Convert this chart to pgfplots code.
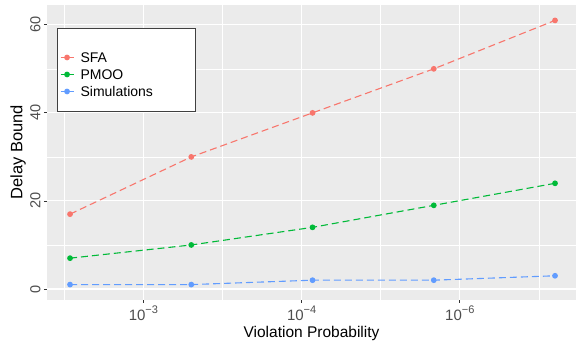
\documentclass[border=0pt]{standalone}
\usepackage{fontspec}
\setmainfont{Liberation Sans}
\usepackage{pgfplots}
\pgfplotsset{compat=1.18}
\definecolor{panel}{HTML}{EBEBEB}
\definecolor{sfa}{HTML}{F8766D}
\definecolor{pmoo}{HTML}{00BA38}
\definecolor{sim}{HTML}{619CFF}
\definecolor{ticklab}{HTML}{4D4D4D}
\definecolor{tickcol}{HTML}{333333}
\definecolor{legbox}{HTML}{404040}
\newcommand{\pw}[1]{10\raisebox{7.5pt}{\fontsize{11}{12}\selectfont −#1}}
\begin{document}
\begin{tikzpicture}
\begin{axis}[
  name=ax,
  scale only axis, width=529pt, height=295pt,
  xmin=0.81, xmax=5.173, ymin=-2.5, ymax=64.5,
  /pgf/number format/assume math mode=true,
  axis background/.style={fill=panel},
  axis line style={draw=none},
  xtick={1.605,2.91,4.215},
  xticklabels={\pw{3},\pw{4},\pw{6}},
  minor xtick={0.9525,2.2575,3.5625,4.8675},
  ytick={0,20,40,60},
  minor ytick={10,30,50},
  grid=both,
  major grid style={white, line width=1.1pt},
  minor grid style={white, line width=0.55pt},
  tick align=outside,
  tick pos=left,
  major tick length=3pt, minor tick length=0pt,
  tick style={tickcol, line width=0.8pt},
  tick label style={ticklab},
  xticklabel style={font=\fontsize{15}{17}\selectfont, anchor=base, yshift=-18pt},
  yticklabel style={font=\fontsize{14.5}{16}\selectfont, rotate=90, anchor=south},
  xlabel={Violation Probability}, ylabel={Delay Bound},
  xlabel style={font=\fontsize{15.5}{18}\selectfont, at={(axis description cs:0.5,-0.1288)}, anchor=base},
  ylabel style={font=\fontsize{16.5}{19}\selectfont, at={(axis description cs:-0.0548,0.5)}, anchor=center},
  legend style={at={(axis description cs:0.019,0.922)}, anchor=north west,
    draw=legbox, line width=0.9pt, fill=white,
    inner xsep=2.5pt, inner ysep=11.5pt, row sep=0pt, column sep=4pt,
    nodes={inner xsep=2.5pt, inner ysep=0pt, text depth={}, minimum height=0pt,
      font=\fontsize{14}{16}\selectfont, text=black}},
  legend cell align=left,
  legend image code/.code={\draw[mark repeat=2, mark phase=2, solid]
    plot coordinates {(0pt,0pt) (6.5pt,0pt) (13pt,0pt)};},
  every axis plot/.append style={line width=1.1pt, dash pattern=on 7pt off 4pt,
    mark=*, mark size=2.3pt, mark options={solid}},
]
\addlegendimage{empty legend}
\addlegendentry{\rule{0pt}{9pt}\hspace*{110pt}}
\addplot[color=sfa] coordinates {(1,17) (2,30) (3,40) (4,50) (5,61)};
\addlegendentry{\rule[-3.5pt]{0pt}{17pt}SFA}
\addplot[color=pmoo] coordinates {(1,7) (2,10) (3,14) (4,19) (5,24)};
\addlegendentry{\rule[-3.5pt]{0pt}{17pt}PMOO}
\addplot[color=sim] coordinates {(1,1) (2,1) (3,2) (4,2) (5,3)};
\addlegendentry{\rule[-3.5pt]{0pt}{17pt}Simulations}
\end{axis}
\pgfresetboundingbox
\path ([xshift=-47pt,yshift=-42pt]ax.south west) rectangle ([yshift=5pt]ax.north east);
\end{tikzpicture}
\end{document}
